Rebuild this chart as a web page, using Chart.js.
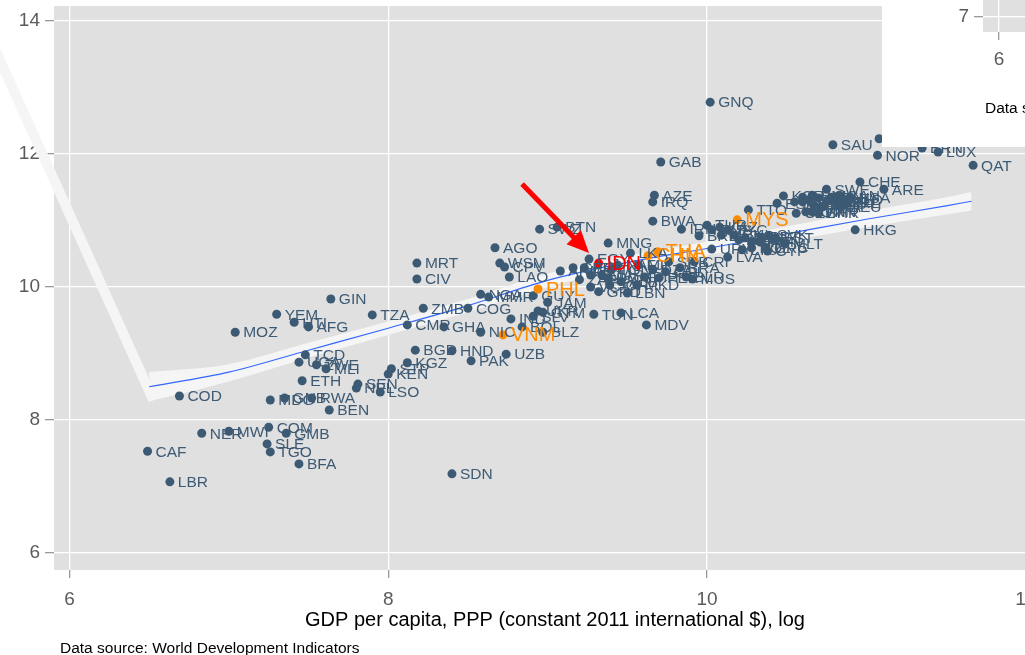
<!DOCTYPE html>
<html>
<head>
<meta charset="utf-8">
<script src="https://cdn.jsdelivr.net/npm/chart.js@4.4.1/dist/chart.umd.min.js"></script>
<style>
  html, body { margin: 0; padding: 0; background: #fff; overflow: hidden; }
  #wrap { position: relative; width: 1025px; height: 655px; overflow: hidden; }
  #main { position: absolute; left: 0; top: 0; }
  #source { position: absolute; left: 60px; top: 639px; font: 15.5px "Liberation Sans", Arial, sans-serif; color: #000; white-space: nowrap; }
  #inset { position: absolute; left: 882px; top: 0; width: 143px; height: 147px; background: #fff; overflow: hidden; }
  #insetCanvas { position: absolute; left: 0; top: -20px; }
  #insetNote { position: absolute; left: 103px; top: 99px; font: 15.5px "Liberation Sans", Arial, sans-serif; color: #000; white-space: nowrap; }
</style>
</head>
<body>
<div id="wrap">
  <canvas id="main" width="1080" height="655" style="width:1080px;height:655px"></canvas>
  <div id="source">Data source: World Development Indicators</div>
  <div id="inset">
    <canvas id="insetCanvas" width="500" height="200" style="width:500px;height:200px"></canvas>
    <div id="insetNote">Data source: World Development Indicators</div>
  </div>
</div>
<script>
// Country codes, log GDP per capita (PPP) and the log outcome on the vertical axis
const iso3 = [
  'CAF','LBR','COD','NER','MWI','MOZ','COM','GMB','SLE','TGO','BFA','YEM','HTI','AFG','GIN','TZA','CMR',
  'TCD','UGA','ZWE','MLI','ETH','MDG','GNB','RWA','BEN','SEN','NPL','LSO','KEN','STP','KGZ','BGD','HND',
  'PAK','UZB','NIC','GHA','ZMB','COG','MRT','CIV','AGO','WSM','CPV','LAO','SWZ','BTN','NGA','MMR','GUY',
  'IND','BOL','SLV','UKR','GTM','BLZ','JAM','SDN','MNG','EGY','VCT','LBN','TUN','LCA','MDV','ARM','GEO',
  'PRY','ECU','MAR','DOM','JOR','ALB','MKD','BIH','DZA','COL','PER','BLR','LKA','SRB','BRA','CRI','FJI',
  'NAM','ZAF','GRD','TON','MUS','GNQ','GAB','AZE','IRQ','BWA','IRN','TTO','LVA','CYP','MLT','HKG','KOR',
  'ESP','SWE','CHE','SAU','NOR','LUX','QAT','ARE','KWT','BRN','TUR','RUS','KAZ','MEX','URY','CHL','ARG',
  'PAN','HRV','HUN','POL','LTU','GRC','PRT','SVK','EST','SYC','BRB','CZE','ISR','NZL','ITA','JPN','SVN',
  'OMN','BHR','FRA','GBR','FIN','BEL','ISL','DNK','AUS','CAN','NLD','AUT','DEU','USA','IRL',
  'PHL','VNM','CHN','THA','MYS','IDN'
];
const logGdp = [
  6.49,6.63,6.69,6.83,7.00,7.04,7.25,7.36,7.24,7.26,7.44,7.30,7.41,7.50,7.64,7.90,8.12,
  7.48,7.44,7.55,7.61,7.46,7.26,7.35,7.52,7.63,7.81,7.80,7.95,8.00,8.02,8.12,8.17,8.40,
  8.52,8.74,8.58,8.35,8.22,8.50,8.18,8.18,8.67,8.70,8.73,8.76,8.95,9.06,8.58,8.63,8.91,
  8.77,8.84,8.91,8.94,8.97,8.97,9.00,8.40,9.38,9.26,9.27,9.50,9.29,9.46,9.62,9.08,9.16,
  9.23,9.27,9.34,9.38,9.39,9.46,9.56,9.61,9.66,9.74,9.70,9.87,9.52,9.76,9.83,9.92,9.57,
  9.44,9.20,9.32,9.40,9.91,10.02,9.71,9.67,9.66,9.66,9.84,10.26,10.13,10.38,10.49,10.93,10.48,
  10.44,10.75,10.96,10.79,11.07,11.45,11.67,11.11,11.08,11.35,10.00,10.03,10.08,10.09,10.03,10.17,10.20,
  10.24,10.28,10.33,10.28,10.22,10.37,10.34,10.39,10.43,10.13,9.95,10.56,10.55,10.60,10.64,10.67,10.62,
  10.66,10.70,10.72,10.75,10.78,10.80,10.70,10.66,10.60,10.83,10.86,10.82,10.84,10.90,10.88,
  8.94,8.72,9.63,9.69,10.19,9.32
];
const logOutcome = [
  7.53,7.07,8.36,7.80,7.83,9.32,7.89,7.80,7.64,7.52,7.34,9.59,9.47,9.40,9.82,9.58,9.43,
  8.98,8.87,8.83,8.77,8.59,8.30,8.33,8.33,8.15,8.54,8.48,8.42,8.69,8.77,8.86,9.05,9.04,
  8.89,8.99,9.32,9.40,9.68,9.68,10.36,10.12,10.59,10.36,10.30,10.15,10.87,10.90,9.89,9.85,9.87,
  9.52,9.40,9.56,9.64,9.62,9.32,9.77,7.19,10.66,10.42,10.00,9.91,9.59,9.61,9.43,10.24,10.29,
  10.29,10.18,10.18,10.14,10.03,10.08,10.03,10.15,10.26,10.23,10.14,10.15,10.51,10.38,10.29,10.38,10.33,
  10.33,10.11,9.93,10.26,10.12,12.78,11.88,11.38,11.28,10.99,10.87,11.16,10.45,10.54,10.65,10.86,11.37,
  11.26,11.47,11.58,12.14,11.98,12.03,11.83,11.47,12.23,12.09,10.93,10.86,10.90,10.78,10.57,10.78,10.71,
  10.74,10.68,10.68,10.59,10.56,10.59,10.75,10.78,10.74,10.86,10.77,11.11,11.28,11.28,11.31,11.23,11.13,
  11.13,11.11,11.20,11.28,11.35,11.28,11.34,11.38,11.35,11.38,11.31,11.25,11.20,11.35,11.27,
  9.97,9.28,10.47,10.53,11.01,10.36
];
const orangeCodes = ['PHL','VNM','CHN','THA','MYS'];
const redCodes = ['IDN'];

// Smoothed fit and its confidence band
const fitX  = [6.50, 7.00, 7.50, 8.00, 8.50, 9.00, 9.50, 10.00, 10.50, 11.00, 11.50, 11.66];
const fitY  = [8.50, 8.72, 9.05, 9.38, 9.72, 10.10, 10.37, 10.58, 10.80, 11.02, 11.22, 11.29];
const fitHi = [8.72, 8.84, 9.16, 9.48, 9.82, 10.20, 10.47, 10.68, 10.91, 11.14, 11.35, 11.43];
const fitLo = [8.28, 8.58, 8.94, 9.28, 9.62, 10.00, 10.27, 10.48, 10.69, 10.90, 11.09, 11.15];
// Stray edge of the band polygon running off the panel
const spikeX = [6.526, 5.380];
const spikeY = [8.301, 14.391];

// Arrow pointing at Indonesia
const arrowTail = [8.84, 11.55];
const arrowTip  = [9.26, 10.51];

const xTicks = [6, 8, 10, 12];
const yTicks = [6, 8, 10, 12, 14];
const insetXTicks = [6];
const insetYTicks = [7];

const FONT = '"Liberation Sans", Arial, Helvetica, sans-serif';
const GREY_PT = '#3d5a74';
const ORANGE = '#ff8c00';
const RED = '#ff0000';
const BAND = '#f5f5f5';

function pointsFor(filter) {
  const out = [];
  iso3.forEach((c, i) => { if (filter(c)) out.push({ x: logGdp[i], y: logOutcome[i], code: c }); });
  return out;
}
const greyPts = pointsFor(c => !orangeCodes.includes(c) && !redCodes.includes(c));
const orangePts = pointsFor(c => orangeCodes.includes(c));
const redPts = pointsFor(c => redCodes.includes(c));
const zip = (xs, ys) => xs.map((x, i) => ({ x, y: ys[i] }));

const panelBackground = {
  id: 'panelBackground',
  beforeDraw(chart, args, opts) {
    const { ctx, chartArea: a } = chart;
    ctx.save();
    ctx.fillStyle = opts.color || '#e0e0e0';
    ctx.fillRect(a.left, a.top, a.right - a.left, a.bottom - a.top);
    ctx.restore();
  }
};

const pointLabels = {
  id: 'pointLabels',
  afterDatasetsDraw(chart) {
    const ctx = chart.ctx;
    ctx.save();
    ctx.textAlign = 'left';
    ctx.textBaseline = 'middle';
    chart.data.datasets.forEach((ds, di) => {
      if (!ds.labelFont) return;
      const meta = chart.getDatasetMeta(di);
      ctx.font = ds.labelFont;
      ctx.fillStyle = ds.labelColor;
      meta.data.forEach((el, i) => {
        ctx.fillText(ds.data[i].code, el.x + 8, el.y + 1);
      });
    });
    ctx.restore();
  }
};

const arrowPlugin = {
  id: 'idnArrow',
  afterDraw(chart) {
    const xs = chart.scales.x, ys = chart.scales.y, ctx = chart.ctx;
    const x0 = xs.getPixelForValue(arrowTail[0]), y0 = ys.getPixelForValue(arrowTail[1]);
    const x1 = xs.getPixelForValue(arrowTip[0]), y1 = ys.getPixelForValue(arrowTip[1]);
    const ang = Math.atan2(y1 - y0, x1 - x0);
    const headLen = 22, headHalf = 10;
    const bx = x1 - Math.cos(ang) * headLen, by = y1 - Math.sin(ang) * headLen;
    ctx.save();
    ctx.strokeStyle = RED;
    ctx.fillStyle = RED;
    ctx.lineWidth = 5;
    ctx.beginPath();
    ctx.moveTo(x0, y0);
    ctx.lineTo(bx + Math.cos(ang) * 2, by + Math.sin(ang) * 2);
    ctx.stroke();
    ctx.beginPath();
    ctx.moveTo(x1, y1);
    ctx.lineTo(bx + Math.sin(ang) * headHalf, by - Math.cos(ang) * headHalf);
    ctx.lineTo(bx - Math.sin(ang) * headHalf, by + Math.cos(ang) * headHalf);
    ctx.closePath();
    ctx.fill();
    ctx.restore();
  }
};

const tickFont = { family: FONT, size: 19 };
const tickColor = '#5b5b5b';

new Chart(document.getElementById('main'), {
  type: 'scatter',
  data: {
    datasets: [
      { data: zip(spikeX, spikeY), showLine: true, borderColor: BAND, borderWidth: 10,
        borderCapStyle: 'butt', pointRadius: 0, clip: false, order: 10 },
      { data: zip(fitX, fitHi), showLine: true, borderWidth: 0, borderColor: 'rgba(0,0,0,0)',
        backgroundColor: BAND, fill: '+1', pointRadius: 0, cubicInterpolationMode: 'monotone', order: 9 },
      { data: zip(fitX, fitLo), showLine: true, borderWidth: 0, borderColor: 'rgba(0,0,0,0)',
        pointRadius: 0, cubicInterpolationMode: 'monotone', order: 9 },
      { data: zip(fitX, fitY), showLine: true, borderColor: '#3366ff', borderWidth: 1.1,
        pointRadius: 0, cubicInterpolationMode: 'monotone', order: 8 },
      { data: greyPts, pointRadius: 4.5, pointBackgroundColor: GREY_PT, pointBorderWidth: 0,
        labelFont: '15.5px ' + FONT, labelColor: GREY_PT, order: 3 },
      { data: orangePts, pointRadius: 4.5, pointBackgroundColor: ORANGE, pointBorderWidth: 0,
        labelFont: '20px ' + FONT, labelColor: ORANGE, order: 2 },
      { data: redPts, pointRadius: 4.5, pointBackgroundColor: RED, pointBorderWidth: 0,
        labelFont: '20px ' + FONT, labelColor: RED, order: 1 }
    ]
  },
  options: {
    responsive: false,
    animation: false,
    events: [],
    layout: { padding: { top: 6, right: 24, left: 0, bottom: 0 } },
    plugins: {
      legend: { display: false },
      tooltip: { enabled: false },
      panelBackground: { color: '#e0e0e0' }
    },
    scales: {
      x: {
        type: 'linear', min: 5.903, max: 12.19,
        afterBuildTicks: s => { s.ticks = xTicks.map(v => ({ value: v })); },
        afterFit: s => { s.height = 85; s.paddingLeft = 0; s.paddingRight = 0; },
        grid: { color: '#ffffff', lineWidth: 1.3, tickColor: '#9a9a9a', tickLength: 8 },
        border: { display: false },
        ticks: { font: tickFont, color: tickColor, padding: 10, maxRotation: 0 },
        title: { display: true, text: 'GDP per capita, PPP (constant 2011 international $), log',
                 font: { family: FONT, size: 20 }, color: '#000', padding: { top: 0, bottom: 23 } }
      },
      y: {
        type: 'linear', min: 5.744, max: 14.226,
        afterBuildTicks: s => { s.ticks = yTicks.map(v => ({ value: v })); },
        afterFit: s => { s.width = 54; s.paddingTop = 0; s.paddingBottom = 0; },
        grid: { color: '#ffffff', lineWidth: 1.3, tickColor: '#9a9a9a', tickLength: 9 },
        border: { display: false },
        ticks: { font: tickFont, color: tickColor, padding: 5 }
      }
    }
  },
  plugins: [panelBackground, pointLabels, arrowPlugin]
});

// Small companion panel in the top-right corner
new Chart(document.getElementById('insetCanvas'), {
  type: 'scatter',
  data: { datasets: [{ data: [] }] },
  options: {
    responsive: false,
    animation: false,
    events: [],
    layout: { padding: 0 },
    plugins: { legend: { display: false }, tooltip: { enabled: false }, panelBackground: { color: '#e0e0e0' } },
    scales: {
      x: {
        type: 'linear', min: 5.88, max: 8.87,
        afterBuildTicks: s => { s.ticks = insetXTicks.map(v => ({ value: v })); },
        afterFit: s => { s.height = 148; s.paddingLeft = 0; s.paddingRight = 0; },
        grid: { color: '#ffffff', lineWidth: 1.3, tickColor: '#9a9a9a', tickLength: 8 },
        border: { display: false },
        ticks: { font: tickFont, color: tickColor, padding: 8, maxRotation: 0 }
      },
      y: {
        type: 'linear', min: 6.7, max: 7.74,
        afterBuildTicks: s => { s.ticks = insetYTicks.map(v => ({ value: v })); },
        afterFit: s => { s.width = 101; s.paddingTop = 0; s.paddingBottom = 0; },
        grid: { color: '#ffffff', lineWidth: 1.3, tickColor: '#9a9a9a', tickLength: 9 },
        border: { display: false },
        ticks: { font: tickFont, color: tickColor, padding: 5 }
      }
    }
  },
  plugins: [panelBackground]
});
</script>
</body>
</html>
